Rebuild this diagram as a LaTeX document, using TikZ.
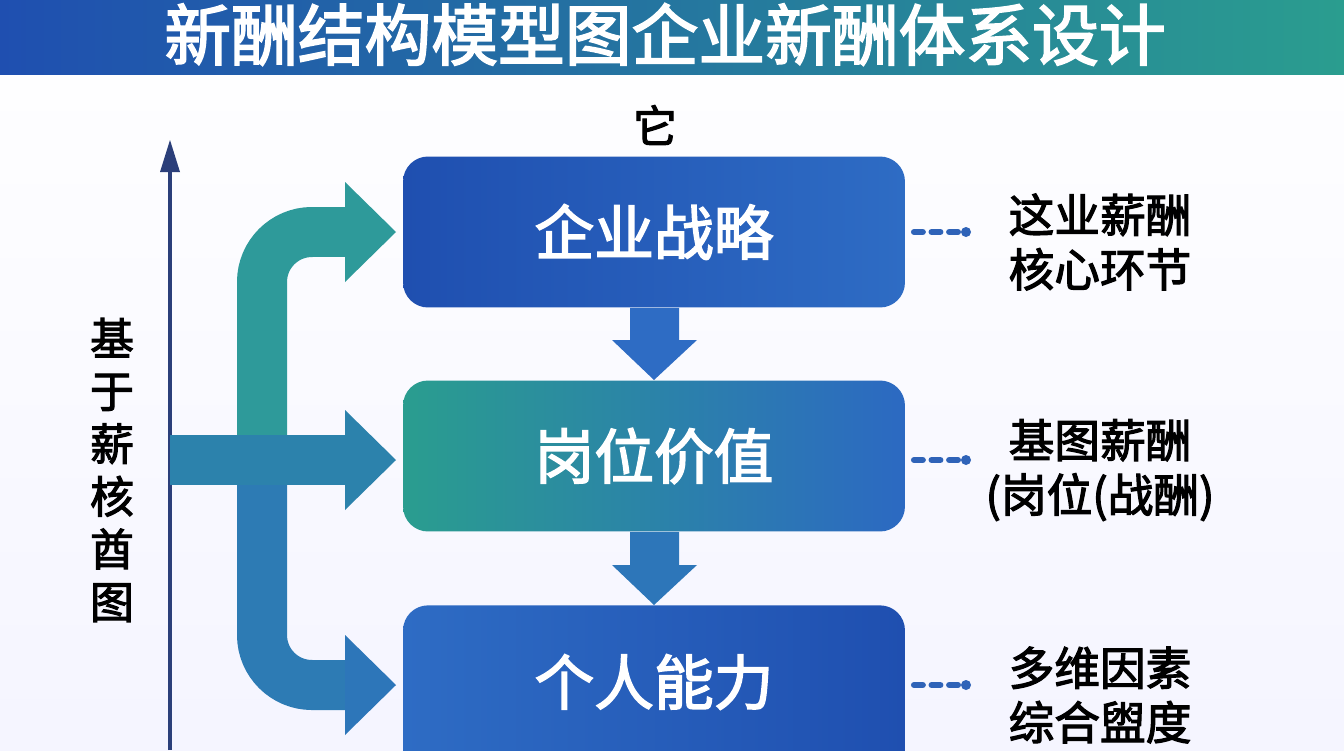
\documentclass[tikz,border=0pt]{standalone}
\usepackage{fontspec}
\setmainfont{Noto Sans CJK SC}[AutoFakeBold=2.5]
\definecolor{dblue}{HTML}{1F4FB0}
\definecolor{mblue}{HTML}{2E6CC4}
\definecolor{teal1}{HTML}{2A9D8F}
\definecolor{teal2}{HTML}{2E9A9A}
\definecolor{axis}{HTML}{2B3F7A}
\definecolor{dot}{HTML}{2F63B8}
\tikzset{
 px/.style={x=0.02cm,y=-0.02cm},
 box/.style={rounded corners=0.5cm,minimum width=10.04cm,minimum height=3.02cm,text=white,font=\bfseries\fontsize{34}{36}\selectfont},
 lbl/.style={align=center,font=\bfseries\fontsize{26}{31}\selectfont,text=black},
 band/.style={line width=1cm,rounded corners=1cm},
 dots/.style={dot,line width=3.5pt,dash pattern=on 5pt off 5pt,line cap=round},
}
\begin{document}
\begin{tikzpicture}[px]
\useasboundingbox (0,0) rectangle (1344,750);
\shade[top color=white,bottom color=blue!4!white] (0,0) rectangle (1344,750);
\shade[left color=dblue,right color=teal1] (0,0) rectangle (1344,75);
\node[text=white,font=\bfseries\fontsize{38}{40}\selectfont,anchor=base] (title) at (665,60) {新酬结构模型图企业新酬体系设计};
\node[font=\bfseries\fontsize{25}{26}\selectfont] (ta) at (655,125) {它};
% boxes
\node[box,left color=dblue,right color=mblue] (b1) at (654,232) {企业战略};
\node[box,left color=teal1,right color=mblue!90!dblue] (b2) at (654,456) {岗位价值};
\node[box,left color=mblue,right color=dblue,minimum height=3.5cm,anchor=north] (b3) at (654,605) {};
\node[text=white,font=\bfseries\fontsize{34}{36}\selectfont] (b3t) at (654,682) {个人能力};
% down arrows
\fill[mblue] (b1.south -| 630,0) -- (630,340) -- (612,340) -- (654,380) -- (697,340) -- (679,340) -- (b1.south -| 679,0) -- cycle;
\fill[mblue!80!teal1] (b2.south -| 630,0) -- (630,565) -- (612,565) -- (654,605) -- (697,565) -- (679,565) -- (b2.south -| 679,0) -- cycle;
% axis
\coordinate (ax0) at (170,750);
\coordinate (ax1) at (170,140);
\draw[axis,line width=2pt] (ax0) -- (170,170);
\fill[axis] (ax1) -- (160,172) -- (180,172) -- cycle;
\node[lbl,font=\bfseries\fontsize{25}{30}\selectfont] (vl) at (112,470) {基\\于\\薪\\核\\酋\\图};
% thick branch arrows
\draw[band,teal2] (262,470) -- (262,232) -- (347,232);
\draw[band,mblue!70!teal1] (262,450) -- (262,685) -- (347,685);
\draw[band,mblue!55!teal1] (170,460) -- (347,460);
\fill[teal2] (345,182) -- (396,232) -- (345,282) -- cycle;
\fill[mblue!55!teal1] (345,410) -- (396,460) -- (345,510) -- cycle;
\fill[mblue!80!teal1] (345,635) -- (396,685) -- (345,735) -- cycle;
% dotted connectors and labels
\foreach \y/\n/\t in {232/r1/{这业薪酬\\核心环节},460/r2/{基图薪酬\\(岗位(战酬)},685/r3/{多维因素\\综合盥度}}{
  \coordinate (\n s) at (914,\y);
  \coordinate (\n e) at (966,\y);
  \draw[dots] (\n s) -- (\n e);
  \fill[dot] (\n e) circle (5);
  \node[lbl] (\n) at (1100,\y+10) {\t};
}
\end{tikzpicture}
\end{document}
